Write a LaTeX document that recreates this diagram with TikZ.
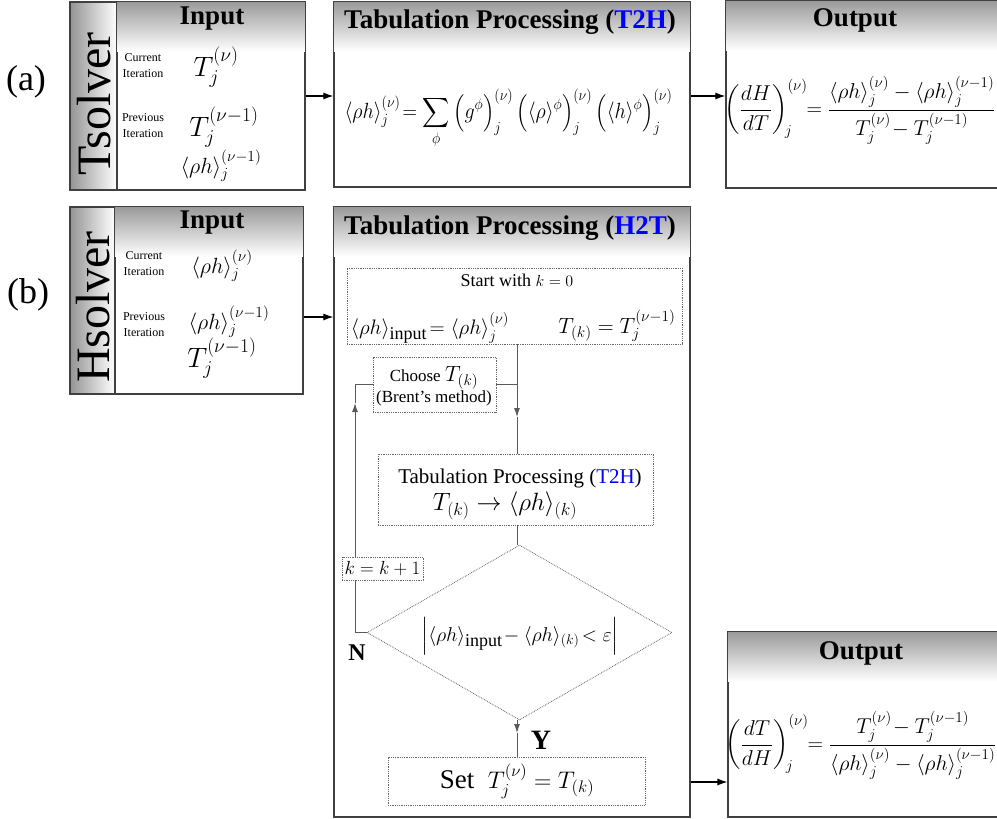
\RequirePackage{fix-cm}
\documentclass[tikz,border=0pt]{standalone}
\usepackage{amsmath}
\usepackage{graphicx}
\usepackage[no-math]{fontspec}
\setmainfont{Liberation Serif}
\usetikzlibrary{shapes.geometric,arrows.meta}
\newcommand{\myfs}[1]{\fontsize{#1}{#1}\selectfont}
\newcommand{\rhoh}{\langle\rho h\rangle}
\newcommand{\headshade}[1]{%
  \shade[top color=black!40, bottom color=white] (#1.north west) rectangle ([yshift=-50pt]#1.north east);
  \draw[boxline] (#1.north west) rectangle (#1.south east);}
\begin{document}
\begin{tikzpicture}[x=1pt,y=-1pt,
 every node/.append style={inner sep=1pt},
 boxline/.style={draw=black!75, line width=1.2pt},
 box/.style={boxline, fill=white, inner sep=0pt},
 strip/.style={box, left color=black!42, right color=white},
 dbox/.style={draw=black!60, densely dotted, line width=0.8pt, fill=white, inner sep=0pt},
 ttl/.style={font=\myfs{27}\bfseries},
 lab/.style={font=\myfs{36}},
 side/.style={rotate=90, font=\myfs{48}},
 itxt/.style={font=\fontsize{12}{16}\selectfont, align=center},
 ma/.style={font=\myfs{22}},
 mb/.style={font=\myfs{28}},
 mo/.style={font=\myfs{21.5}},
 arr/.style={draw=black, line width=1.1pt, -{Latex[length=10pt,width=7pt]}},
 flow/.style={draw=black!65, line width=1pt},
 flowarr/.style={flow, -{Latex[length=9pt,width=6pt]}},
]
\useasboundingbox (0,0) rectangle (997,819);

% ---------------- (a) ----------------
\node[lab] (la) at (26,82) {(a)};
\node[strip, minimum width=47pt, minimum height=188pt] (tsA) at (93.5,96) {};
\node[side] (tsAt) at (94,104) {Tsolver};
\node[box, minimum width=188pt, minimum height=188pt] (inA) at (211,96) {};
\headshade{inA}
\node[ttl] (inAt) at (212,19) {Input};
\node[itxt] (curA) at (143,66) {Current\\Iteration};
\node[itxt] (preA) at (143,126) {Previous\\Iteration};
\node[mb] (xa1) at (216,67) {$T_j^{(\nu)}$};
\node[mb] (xa2) at (224,127) {$T_j^{(\nu-1)}$};
\node[ma] (xa3) at (221,166) {$\rhoh_j^{(\nu-1)}$};

\node[box, minimum width=356pt, minimum height=185pt] (t2hA) at (512,94.5) {};
\headshade{t2hA}
\node[ttl] (t2hAt) at (510,22) {Tabulation Processing (\textcolor{blue}{T2H})};
\node[ma] (fa) at (508.5,119) {\scalebox{0.91}[1]{$\displaystyle \rhoh_j^{(\nu)}\!=\sum_{\phi}\left(g^{\phi}\right)_j^{(\nu)}\left(\langle\rho\rangle^{\phi}\right)_j^{(\nu)}\left(\langle h\rangle^{\phi}\right)_j^{(\nu)}$}};

\node[box, minimum width=274pt, minimum height=187pt] (outA) at (863,94.5) {};
\headshade{outA}
\node[ttl] (outAt) at (855,20) {Output};
\node[mo] (foa) at (860,110) {$\displaystyle\left(\frac{dH}{dT}\right)_{\!j}^{(\nu)}\!\!=\frac{\rhoh_j^{(\nu)}-\rhoh_j^{(\nu-1)}}{T_j^{(\nu)}\!-T_j^{(\nu-1)}}$};

\draw[arr] (inA.east) -- (t2hA.west |- inA.east);
\draw[arr] (t2hA.east |- inA.east) -- (outA.west |- inA.east);

% ---------------- (b) ----------------
\node[lab] (lb) at (28,295) {(b)};
\node[strip, minimum width=45pt, minimum height=187pt] (tsB) at (92.5,300.5) {};
\node[side] (tsBt) at (93,307) {Hsolver};
\node[box, minimum width=188pt, minimum height=187pt] (inB) at (209,300.5) {};
\headshade{inB}
\node[ttl] (inBt) at (212,223) {Input};
\node[itxt] (curB) at (144,264) {Current\\Iteration};
\node[itxt] (preB) at (144,325) {Previous\\Iteration};
\node[ma] (xb1) at (222,266) {$\rhoh_j^{(\nu)}$};
\node[ma] (xb2) at (229,322) {$\rhoh_j^{(\nu-1)}$};
\node[mb] (xb3) at (222,358) {$T_j^{(\nu-1)}$};

\node[box, minimum width=356pt, minimum height=610pt] (h2t) at (512,512) {};
\headshade{h2t}
\node[ttl] (h2tt) at (510,228) {Tabulation Processing (\textcolor{blue}{H2T})};

\node[dbox, minimum width=335pt, minimum height=76pt] (start) at (514.5,306) {};
\node[font=\myfs{18}] (st1) at (517,280) {Start with {\myfs{16}$k=0$}};
\node[font=\myfs{21}] (st2) at (430,328) {$\rhoh_{\mbox{\myfs{18}input}}\!=\rhoh_j^{(\nu)}$};
\node[font=\myfs{22}] (st3) at (617,326) {$T_{(k)}=T_j^{(\nu-1)}$};

\node[dbox, minimum width=123pt, minimum height=55pt] (choose) at (434.5,384.5) {};
\node[font=\fontsize{17}{21}\selectfont, align=center] (cht) at (434,386) {Choose {\myfs{22}$T_{(k)}$}\\(Brent's method)};

\node[dbox, minimum width=275pt, minimum height=71pt] (t2hin) at (515.5,489.5) {};
\node[font=\myfs{21}] (ti1) at (520,478) {Tabulation Processing (\textcolor{blue}{T2H})};
\node[font=\myfs{25}] (ti2) at (505,506) {$T_{(k)}\rightarrow\rhoh_{(k)}$};

\node[diamond, dbox, aspect=1.743, minimum width=305pt, minimum height=175pt] (dia) at (519.5,632.5) {};
\node[font=\myfs{20}] (dt) at (520,636) {$\left|\rhoh_{\mbox{\myfs{18}input}}\!-\rhoh_{(k)}\!<\varepsilon\right|$};

\node[dbox, minimum width=257pt, minimum height=48pt] (set) at (516.5,781) {};
\node (sett) at (517,781) {\myfs{27}Set\ \ {\myfs{24}$T_j^{(\nu)}=T_{(k)}$}};

\node[font=\myfs{24}\bfseries] (nl) at (357,653) {N};
\node[font=\myfs{28}\bfseries] (yl) at (541,740) {Y};

\node[box, minimum width=272pt, minimum height=185pt] (outB) at (864,724.5) {};
\headshade{outB}
\node[ttl] (outBt) at (861,653) {Output};
\node[mo] (fob) at (861,745) {$\displaystyle\left(\frac{dT}{dH}\right)_{\!j}^{(\nu)}\!\!=\frac{T_j^{(\nu)}\!-T_j^{(\nu-1)}}{\rhoh_j^{(\nu)}-\rhoh_j^{(\nu-1)}}$};

% connectors (b)
\coordinate (mx) at (517,0);
\coordinate (lx) at (355,0);
\coordinate (ya) at (0,317);
\coordinate (yb) at (0,782);
\coordinate (arrD) at (517,417);
\coordinate (arrU) at (355,403);
\coordinate (arrY) at (517,733);

\draw[arr] (inB.east |- ya) -- (h2t.west |- ya);
\draw[arr] (h2t.east |- yb) -- (outB.west |- yb);

\draw[flowarr] (start.south -| mx) -- (arrD);
\draw[flow] (arrD) -- (t2hin.north -| mx);
\draw[flow] (choose.east) -- (choose.east -| mx);
\draw[flowarr] (dia.west) -- (dia.west -| lx) -- (arrU);
\draw[flow] (arrU) -- (choose.west -| lx) -- (choose.west);
\draw[flow] (t2hin.south -| mx) -- (dia.north -| mx);
\draw[flowarr] (dia.south -| mx) -- (arrY);
\draw[flow] (arrY) -- (set.north -| mx);

\node[dbox, minimum width=81pt, minimum height=23pt, font=\myfs{19}] (kbox) at (382.5,568.5) {$k=k+1$};
\end{tikzpicture}
\end{document}
